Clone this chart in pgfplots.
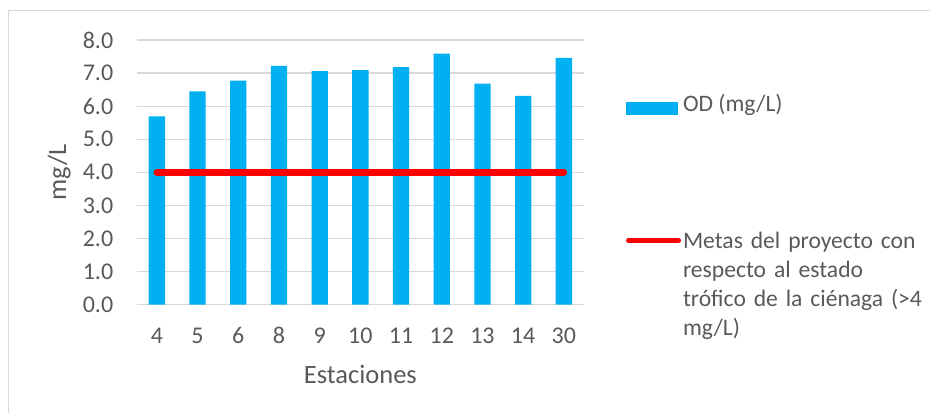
\documentclass[border=0pt]{standalone}
\usepackage{fontspec}
\setmainfont{Carlito}
\usepackage{pgfplots}
\pgfplotsset{compat=1.18}

\definecolor{odblue}{HTML}{00B0F0}
\definecolor{odred}{HTML}{FF0000}
\definecolor{gridgray}{HTML}{D9D9D9}
\definecolor{txtgray}{HTML}{595959}

\begin{document}
\begin{tikzpicture}
% outer chart frame (runs off the right and bottom edges)
\draw[gridgray, line width=1bp] (8.5bp,-10bp) -- (8.5bp,402.5bp) -- (945bp,402.5bp);

\begin{axis}[
  at={(136.5bp,108.4bp)}, anchor=south west,
  scale only axis,
  width=447.7bp, height=264.6bp,
  xmin=-0.5, xmax=10.5,
  ymin=0, ymax=8,
  xtick={0,...,10},
  xticklabels={4,5,6,8,9,10,11,12,13,14,30},
  ytick={0,1,...,8},
  ymajorgrids,
  grid style={draw=gridgray, line width=1.3bp},
  axis line style={draw=none},
  major tick length=0pt,
  clip=false,
  /pgf/number format/assume math mode=true,
  yticklabel style={/pgf/number format/fixed, /pgf/number format/fixed zerofill, /pgf/number format/precision=1},
  ticklabel style={font=\fontsize{24bp}{28bp}\selectfont, text=txtgray, inner sep=0pt, anchor=center},
  xticklabel style={yshift=-31bp},
  yticklabel style={xshift=-38.5bp},
  xlabel={Estaciones},
  ylabel={mg/L},
  label style={font=\fontsize{26.5bp}{30bp}\selectfont, text=txtgray, inner sep=0pt},
  xlabel style={at={(axis description cs:0.5,-0.2623)}, anchor=center},
  ylabel style={at={(axis description cs:-0.1727,0.5)}, anchor=center},
  legend cell align=left,
  legend style={
    at={(axis description cs:1.0934,0.794)}, anchor=north west,
    draw=none, fill=none, inner sep=0pt, outer sep=0pt,
    row sep=117bp, column sep=2bp,
    font=\fontsize{23.6bp}{29bp}\selectfont, text=txtgray,
    nodes={inner sep=0pt},
  },
]

% dissolved oxygen per station
\addplot[ybar, bar width=16.3bp, fill=odblue, draw=none,
  legend image code/.code={\fill[odblue] (0bp,-11bp) rectangle (52bp,2.3bp);}]
  coordinates {
    (0,5.69) (1,6.45) (2,6.77) (3,7.22) (4,7.06) (5,7.09)
    (6,7.18) (7,7.59) (8,6.68) (9,6.31) (10,7.46)
  };
\addlegendentry{OD (mg/L)}

% project target
\addplot[draw=odred, line width=6.5bp, line cap=round,
  legend image code/.code={\draw[odred, line width=5bp, line cap=round] (2.5bp,0.5bp) -- (52.5bp,0.5bp);}]
  coordinates {(0,4) (10,4)};
\addlegendentry[text width=300bp, align=left]{Metas del proyecto con\\respecto al estado\\trófico de la ciénaga (>4\\mg/L)}

\end{axis}

\pgfresetboundingbox
\path[use as bounding box] (0,0) rectangle (930bp,413bp);
\end{tikzpicture}
\end{document}
